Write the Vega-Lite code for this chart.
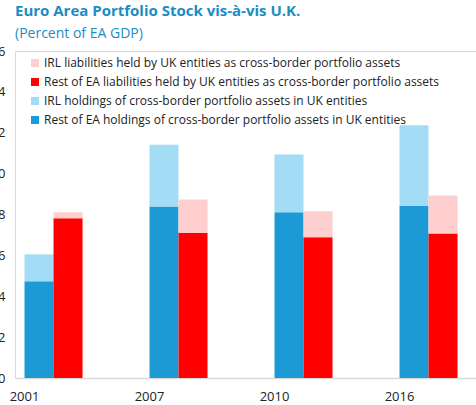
{
  "$schema": "https://vega.github.io/schema/vega-lite/v6.json",
  "width": 461,
  "height": 327,
  "autosize": "none",
  "padding": {"left": 15, "top": 51, "right": 0, "bottom": 27},
  "background": "white",
  "title": {
    "text": "Euro Area Portfolio Stock vis-à-vis U.K.",
    "subtitle": "(Percent of EA GDP)",
    "anchor": "start",
    "frame": "group",
    "color": "#1a8dc4",
    "subtitleColor": "#1a8dc4",
    "font": "Open Sans",
    "subtitleFont": "Open Sans",
    "fontSize": 15,
    "fontWeight": "bold",
    "subtitleFontSize": 14,
    "offset": 4,
    "subtitlePadding": 8
  },
  "data": {
    "values": [
      {"year": "2001", "side": "Holdings", "part": "Rest of EA", "series": "Rest of EA holdings of cross-border portfolio assets in UK entities", "value": 4.73},
      {"year": "2001", "side": "Holdings", "part": "IRL", "series": "IRL holdings of cross-border portfolio assets in UK entities", "value": 1.32},
      {"year": "2001", "side": "Liabilities", "part": "Rest of EA", "series": "Rest of EA liabilities held by UK entities as cross-border portfolio assets", "value": 7.82},
      {"year": "2001", "side": "Liabilities", "part": "IRL", "series": "IRL liabilities held by UK entities as cross-border portfolio assets", "value": 0.29},
      {"year": "2007", "side": "Holdings", "part": "Rest of EA", "series": "Rest of EA holdings of cross-border portfolio assets in UK entities", "value": 8.39},
      {"year": "2007", "side": "Holdings", "part": "IRL", "series": "IRL holdings of cross-border portfolio assets in UK entities", "value": 3.02},
      {"year": "2007", "side": "Liabilities", "part": "Rest of EA", "series": "Rest of EA liabilities held by UK entities as cross-border portfolio assets", "value": 7.11},
      {"year": "2007", "side": "Liabilities", "part": "IRL", "series": "IRL liabilities held by UK entities as cross-border portfolio assets", "value": 1.62},
      {"year": "2010", "side": "Holdings", "part": "Rest of EA", "series": "Rest of EA holdings of cross-border portfolio assets in UK entities", "value": 8.11},
      {"year": "2010", "side": "Holdings", "part": "IRL", "series": "IRL holdings of cross-border portfolio assets in UK entities", "value": 2.82},
      {"year": "2010", "side": "Liabilities", "part": "Rest of EA", "series": "Rest of EA liabilities held by UK entities as cross-border portfolio assets", "value": 6.89},
      {"year": "2010", "side": "Liabilities", "part": "IRL", "series": "IRL liabilities held by UK entities as cross-border portfolio assets", "value": 1.27},
      {"year": "2016", "side": "Holdings", "part": "Rest of EA", "series": "Rest of EA holdings of cross-border portfolio assets in UK entities", "value": 8.41},
      {"year": "2016", "side": "Holdings", "part": "IRL", "series": "IRL holdings of cross-border portfolio assets in UK entities", "value": 3.96},
      {"year": "2016", "side": "Liabilities", "part": "Rest of EA", "series": "Rest of EA liabilities held by UK entities as cross-border portfolio assets", "value": 7.07},
      {"year": "2016", "side": "Liabilities", "part": "IRL", "series": "IRL liabilities held by UK entities as cross-border portfolio assets", "value": 1.86}
    ]
  },
  "mark": {"type": "bar"},
  "encoding": {
    "x": {
      "field": "year",
      "type": "ordinal",
      "scale": {"paddingInner": 0.536, "paddingOuter": 0.112, "align": 0.34},
      "axis": {
        "title": null,
        "labelAngle": 0,
        "ticks": false,
        "labelPadding": 12,
        "labelFontSize": 13,
        "labelFont": "Open Sans",
        "labelColor": "#222222",
        "labelOffset": -29,
        "domainColor": "#d9d9d9",
        "domainWidth": 1.5
      }
    },
    "xOffset": {"field": "side", "type": "nominal", "scale": {"paddingInner": 0, "paddingOuter": 0}},
    "y": {
      "field": "value",
      "type": "quantitative",
      "stack": "zero",
      "scale": {"domain": [0, 16], "nice": false},
      "axis": {
        "title": null,
        "values": [0, 2, 4, 6, 8, 10, 12, 14, 16],
        "ticks": false,
        "domain": false,
        "grid": false,
        "labelPadding": 10,
        "labelFontSize": 13,
        "labelFont": "Open Sans",
        "labelColor": "#222222"
      }
    },
    "order": {"field": "part", "sort": "descending"},
    "color": {
      "field": "series",
      "type": "nominal",
      "scale": {
        "domain": [
          "IRL liabilities held by UK entities as cross-border portfolio assets",
          "Rest of EA liabilities held by UK entities as cross-border portfolio assets",
          "IRL holdings of cross-border portfolio assets in UK entities",
          "Rest of EA holdings of cross-border portfolio assets in UK entities"
        ],
        "range": ["#ffcfcf", "#ff0000", "#a3dcf5", "#1b9ad6"]
      },
      "legend": {
        "orient": "none",
        "legendX": 14,
        "legendY": 6,
        "title": null,
        "labelFont": "Open Sans",
        "labelFontSize": 12,
        "labelColor": "#222222",
        "labelLimit": 500,
        "symbolType": "square",
        "symbolSize": 64,
        "symbolStrokeWidth": 0,
        "rowPadding": 7,
        "labelOffset": 3,
        "padding": 0
      }
    }
  },
  "config": {
    "view": {"stroke": "#d9d9d9", "strokeWidth": 1}
  }
}
